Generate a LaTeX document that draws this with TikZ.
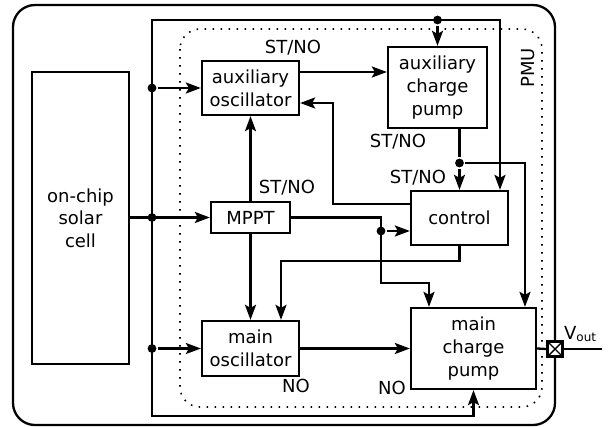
\documentclass[tikz,border=0pt]{standalone}
\usepackage{fontspec}
\setmainfont{DejaVu Sans}
\usetikzlibrary{arrows.meta,calc}
\begin{document}
\begin{tikzpicture}[x=0.5pt,y=-0.5pt,line width=1.15pt,
  blk/.style={draw,fill=white,align=center,inner sep=0pt,font=\fontsize{9pt}{11.3pt}\selectfont},
  arr/.style={-{Stealth[length=7.5pt,width=5.5pt,inset=1.5pt]}},
  dot/.style={circle,fill,inner sep=0pt,minimum size=4.4pt},
  lbl/.style={font=\fontsize{9pt}{11pt}\selectfont,inner sep=0pt}]
\useasboundingbox (0,0) rectangle (610,428);
% outer frame and PMU
\draw[rounded corners=11pt] (13,5) rectangle (555,425);
\draw[line width=0.8pt,dash pattern=on 0.8pt off 3.2pt,rounded corners=10pt] (180,29) rectangle (542,407);
\node[lbl,rotate=90] (pmu) at (528,68) {PMU};
% blocks
\node[blk,minimum width=48.5pt,minimum height=146pt] (solar) at (80.5,218) {on-chip\\solar\\cell};
\node[blk,minimum width=48.5pt,minimum height=27pt] (auxosc) at (250.5,88) {auxiliary\\oscillator};
\node[blk,minimum width=49.5pt,minimum height=40.5pt] (auxcp) at (437.5,87.5) {auxiliary\\charge\\pump};
\node[blk,minimum width=39.5pt,minimum height=15.5pt] (mppt) at (250.5,217.5) {MPPT};
\node[blk,minimum width=48.5pt,minimum height=27pt] (control) at (459.5,218) {control};
\node[blk,minimum width=48.5pt,minimum height=27.5pt] (mainosc) at (250.5,348.5) {main\\oscillator};
\node[blk,minimum width=62.5pt,minimum height=40.5pt] (maincp) at (473.5,348.5) {main\\charge\\pump};
\node[draw,fill=white,inner sep=0pt,minimum size=7.5pt,
  path picture={\draw[line width=0.7pt] (path picture bounding box.north west) -- (path picture bounding box.south east)
  (path picture bounding box.south west) -- (path picture bounding box.north east);}] (vout) at (555,349) {};
\coordinate (vend) at (602,349);
\node[lbl,anchor=south west] (voutl) at (563,343) {V\textsubscript{out}};
% bus
\coordinate (tl) at (152,20);
\coordinate (bl) at (152,416);
\coordinate (ctlin) at (500,0);
\draw[arr] (bl) -- (tl) -| (ctlin |- control.north);
\draw[arr] (tl) -- (bl) -| (maincp.south);
\node[dot] (j1) at (auxcp.north |- tl) {};
\draw[arr] (j1) -- (auxcp.north);
\node[dot] (j2) at (tl |- auxosc.west) {};
\draw[arr] (j2) -- (auxosc.west);
\node[dot] (j3) at (tl |- mppt.west) {};
\draw[arr] (solar.east |- mppt.west) -- (mppt.west);
\node[dot] (j4) at (tl |- mainosc.west) {};
\draw[arr] (j4) -- (mainosc.west);
% aux oscillator -> aux charge pump
\draw[arr] ([yshift=8pt]auxosc.east) -- ([yshift=8pt]auxosc.east -| auxcp.west);
\node[lbl] (l1) at (293,48) {ST/NO};
% control -> aux oscillator
\draw[arr] ([yshift=7pt]control.west) -- (333,204) -- (333,103) -- ([yshift=-7.5pt]auxosc.east);
% aux charge pump -> control, main cp
\node[dot] (j5) at (459.5,163) {};
\coordinate (cpin) at (525,163);
\draw (auxcp.south -| control.north) -- (j5);
\draw[arr] (j5) -- (control.north);
\draw[arr] (j5) -- (cpin) -- (cpin |- maincp.north);
\node[lbl] (l2) at (398,142) {ST/NO};
\node[lbl] (l3) at (418,178) {ST/NO};
% MPPT
\draw[arr] (mppt.north) -- (auxosc.south);
\node[lbl] (l4) at (287,188) {ST/NO};
\draw[arr] (mppt.south) -- (mainosc.north);
\node[dot] (j6) at (381,231) {};
\coordinate (mpb) at (429,283);
\draw[arr] (mppt.east) -- (381,217.5) -- (381,283) -- (mpb) -- (mpb |- maincp.north);
\draw[arr] (j6) -- ([yshift=-6.5pt]control.west);
% control -> main osc
\coordinate (moin) at (281,261);
\draw[arr] (control.south) -- (459.5,261) -- (moin) -- (moin |- mainosc.north);
% main osc -> main cp
\draw[arr] (mainosc.east) -- (maincp.west);
\draw (maincp.east) -- (vout.west);
\draw (vout.east) -- (vend);
\node[lbl] (n1) at (296,386) {NO};
\node[lbl] (n2) at (392,388) {NO};
\end{tikzpicture}
\end{document}
